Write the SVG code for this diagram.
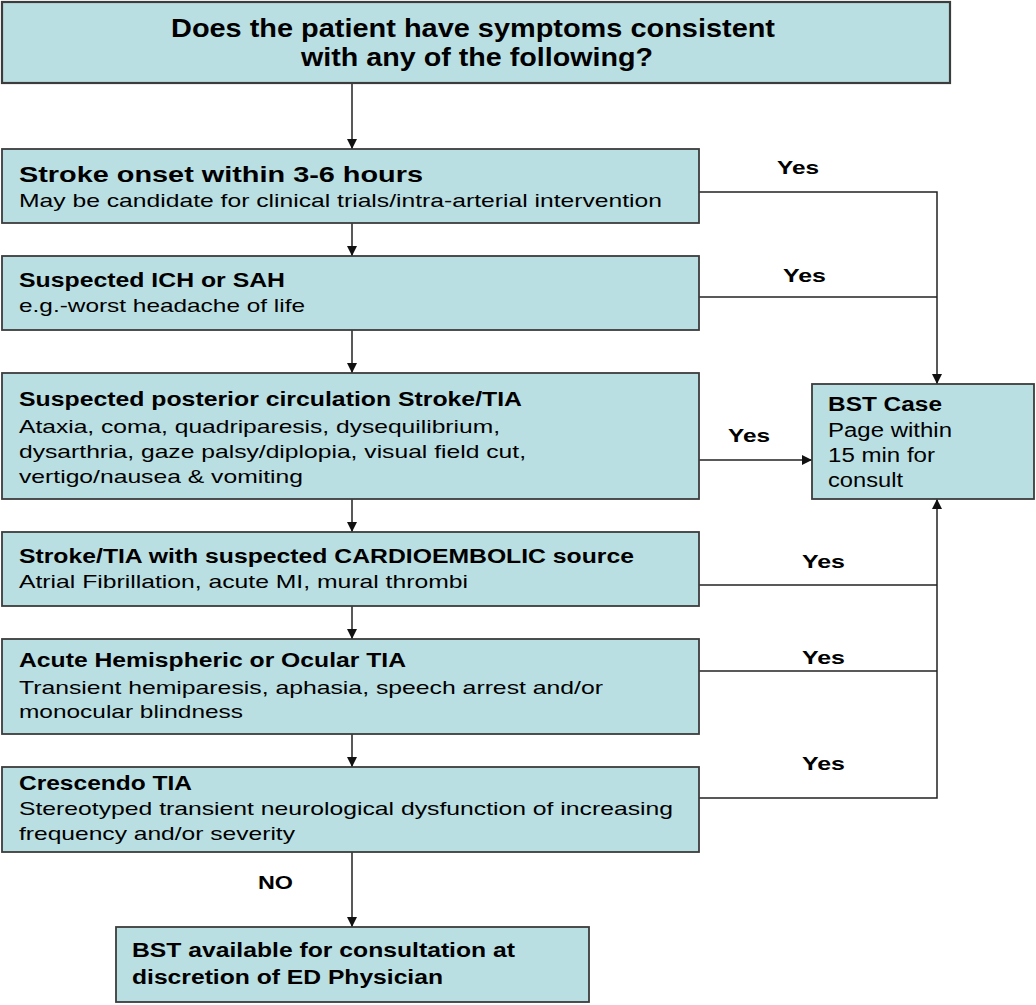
<svg xmlns="http://www.w3.org/2000/svg" width="1036" height="1005" viewBox="0 0 1036 1005">
<defs>
<style>
.box{fill:#BADFE2;stroke:#3c3c3c;stroke-width:1.8}
.t{font-family:"Liberation Sans",Arial,sans-serif;fill:#000}
.b{font-weight:bold}
.h{font-size:22px}
.m{font-size:19.5px}
.s{font-size:19px}
.top{font-size:25px;font-weight:bold}
.lbl{font-family:"Liberation Sans",Arial,sans-serif;font-weight:bold;font-size:18.5px;fill:#000}
.c{fill:none;stroke:#222;stroke-width:1.5}
</style>
<marker id="ah" viewBox="0 0 10 10" refX="10" refY="5" markerWidth="10" markerHeight="10" markerUnits="userSpaceOnUse" orient="auto">
<path d="M0,0 L10,5 L0,10 z" fill="#111"/>
</marker>
</defs>
<rect width="1036" height="1005" fill="#fff"/>

<g id="connectors">
<path class="c" d="M352,83 V149" marker-end="url(#ah)"/>
<path class="c" d="M352,223 V256" marker-end="url(#ah)"/>
<path class="c" d="M352,330 V373" marker-end="url(#ah)"/>
<path class="c" d="M352,499 V532" marker-end="url(#ah)"/>
<path class="c" d="M352,606 V639" marker-end="url(#ah)"/>
<path class="c" d="M352,734 V767" marker-end="url(#ah)"/>
<path class="c" d="M352,852 V927" marker-end="url(#ah)"/>
<path class="c" d="M699,192 H937 V384" marker-end="url(#ah)"/>
<path class="c" d="M699,297 H937"/>
<path class="c" d="M699,460 H812" marker-end="url(#ah)"/>
<path class="c" d="M699,585 H937"/>
<path class="c" d="M699,671 H937"/>
<path class="c" d="M699,798 H937 V499" marker-end="url(#ah)"/>
<text class="lbl" x="777" y="174" textLength="42" lengthAdjust="spacingAndGlyphs">Yes</text>
<text class="lbl" x="783" y="282" textLength="43" lengthAdjust="spacingAndGlyphs">Yes</text>
<text class="lbl" x="728" y="442" textLength="42" lengthAdjust="spacingAndGlyphs">Yes</text>
<text class="lbl" x="802" y="568" textLength="43" lengthAdjust="spacingAndGlyphs">Yes</text>
<text class="lbl" x="802" y="664" textLength="43" lengthAdjust="spacingAndGlyphs">Yes</text>
<text class="lbl" x="802" y="770" textLength="43" lengthAdjust="spacingAndGlyphs">Yes</text>
<text class="lbl" x="258" y="889" textLength="35" lengthAdjust="spacingAndGlyphs">NO</text>
</g>

<g id="n-question">
<rect class="box" x="2" y="2" width="948" height="81" style="stroke-width:2.2"/>
<text class="t top" x="473" y="37" text-anchor="middle" textLength="604" lengthAdjust="spacingAndGlyphs">Does the patient have symptoms consistent</text>
<text class="t top" x="477" y="66" text-anchor="middle" textLength="352" lengthAdjust="spacingAndGlyphs">with any of the following?</text>
</g>

<g id="n-onset">
<rect class="box" x="2" y="149" width="697" height="74"/>
<text class="t b h" x="19" y="182" textLength="404" lengthAdjust="spacingAndGlyphs">Stroke onset within 3-6 hours</text>
<text class="t s" x="19" y="207" textLength="643" lengthAdjust="spacingAndGlyphs">May be candidate for clinical trials/intra-arterial intervention</text>
</g>

<g id="n-ich">
<rect class="box" x="2" y="256" width="697" height="74"/>
<text class="t b m" x="19" y="287" textLength="266" lengthAdjust="spacingAndGlyphs">Suspected ICH or SAH</text>
<text class="t s" x="19" y="312" textLength="286" lengthAdjust="spacingAndGlyphs">e.g.-worst headache of life</text>
</g>

<g id="n-posterior">
<rect class="box" x="2" y="373" width="697" height="126"/>
<text class="t b m" x="19" y="406" textLength="503" lengthAdjust="spacingAndGlyphs">Suspected posterior circulation Stroke/TIA</text>
<text class="t s" x="19" y="433" textLength="481" lengthAdjust="spacingAndGlyphs">Ataxia, coma, quadriparesis, dysequilibrium,</text>
<text class="t s" x="19" y="458" textLength="507" lengthAdjust="spacingAndGlyphs">dysarthria, gaze palsy/diplopia, visual field cut,</text>
<text class="t s" x="19" y="483" textLength="284" lengthAdjust="spacingAndGlyphs">vertigo/nausea &amp; vomiting</text>
</g>

<g id="n-cardio">
<rect class="box" x="2" y="532" width="697" height="74"/>
<text class="t b m" x="19" y="563" textLength="615" lengthAdjust="spacingAndGlyphs">Stroke/TIA with suspected CARDIOEMBOLIC source</text>
<text class="t s" x="19" y="588" textLength="449" lengthAdjust="spacingAndGlyphs">Atrial Fibrillation, acute MI, mural thrombi</text>
</g>

<g id="n-hemispheric">
<rect class="box" x="2" y="639" width="697" height="95"/>
<text class="t b m" x="19" y="667" textLength="387" lengthAdjust="spacingAndGlyphs">Acute Hemispheric or Ocular TIA</text>
<text class="t s" x="19" y="694" textLength="584" lengthAdjust="spacingAndGlyphs">Transient hemiparesis, aphasia, speech arrest and/or</text>
<text class="t s" x="19" y="718" textLength="224" lengthAdjust="spacingAndGlyphs">monocular blindness</text>
</g>

<g id="n-crescendo">
<rect class="box" x="2" y="767" width="697" height="85"/>
<text class="t b m" x="19" y="790" textLength="173" lengthAdjust="spacingAndGlyphs">Crescendo TIA</text>
<text class="t s" x="19" y="815" textLength="654" lengthAdjust="spacingAndGlyphs">Stereotyped transient neurological dysfunction of increasing</text>
<text class="t s" x="19" y="840" textLength="276" lengthAdjust="spacingAndGlyphs">frequency and/or severity</text>
</g>

<g id="n-bst-case">
<rect class="box" x="812" y="384" width="222" height="115"/>
<text class="t b m" x="828" y="411" textLength="114" lengthAdjust="spacingAndGlyphs">BST Case</text>
<text class="t m" x="828" y="437" textLength="124" lengthAdjust="spacingAndGlyphs">Page within</text>
<text class="t m" x="828" y="462" textLength="107" lengthAdjust="spacingAndGlyphs">15 min for</text>
<text class="t m" x="828" y="487" textLength="75" lengthAdjust="spacingAndGlyphs">consult</text>
</g>

<g id="n-available">
<rect class="box" x="116" y="927" width="473" height="75"/>
<text class="t b m" x="132" y="957" textLength="383" lengthAdjust="spacingAndGlyphs">BST available for consultation at</text>
<text class="t b m" x="132" y="984" textLength="311" lengthAdjust="spacingAndGlyphs">discretion of ED Physician</text>
</g>
</svg>
